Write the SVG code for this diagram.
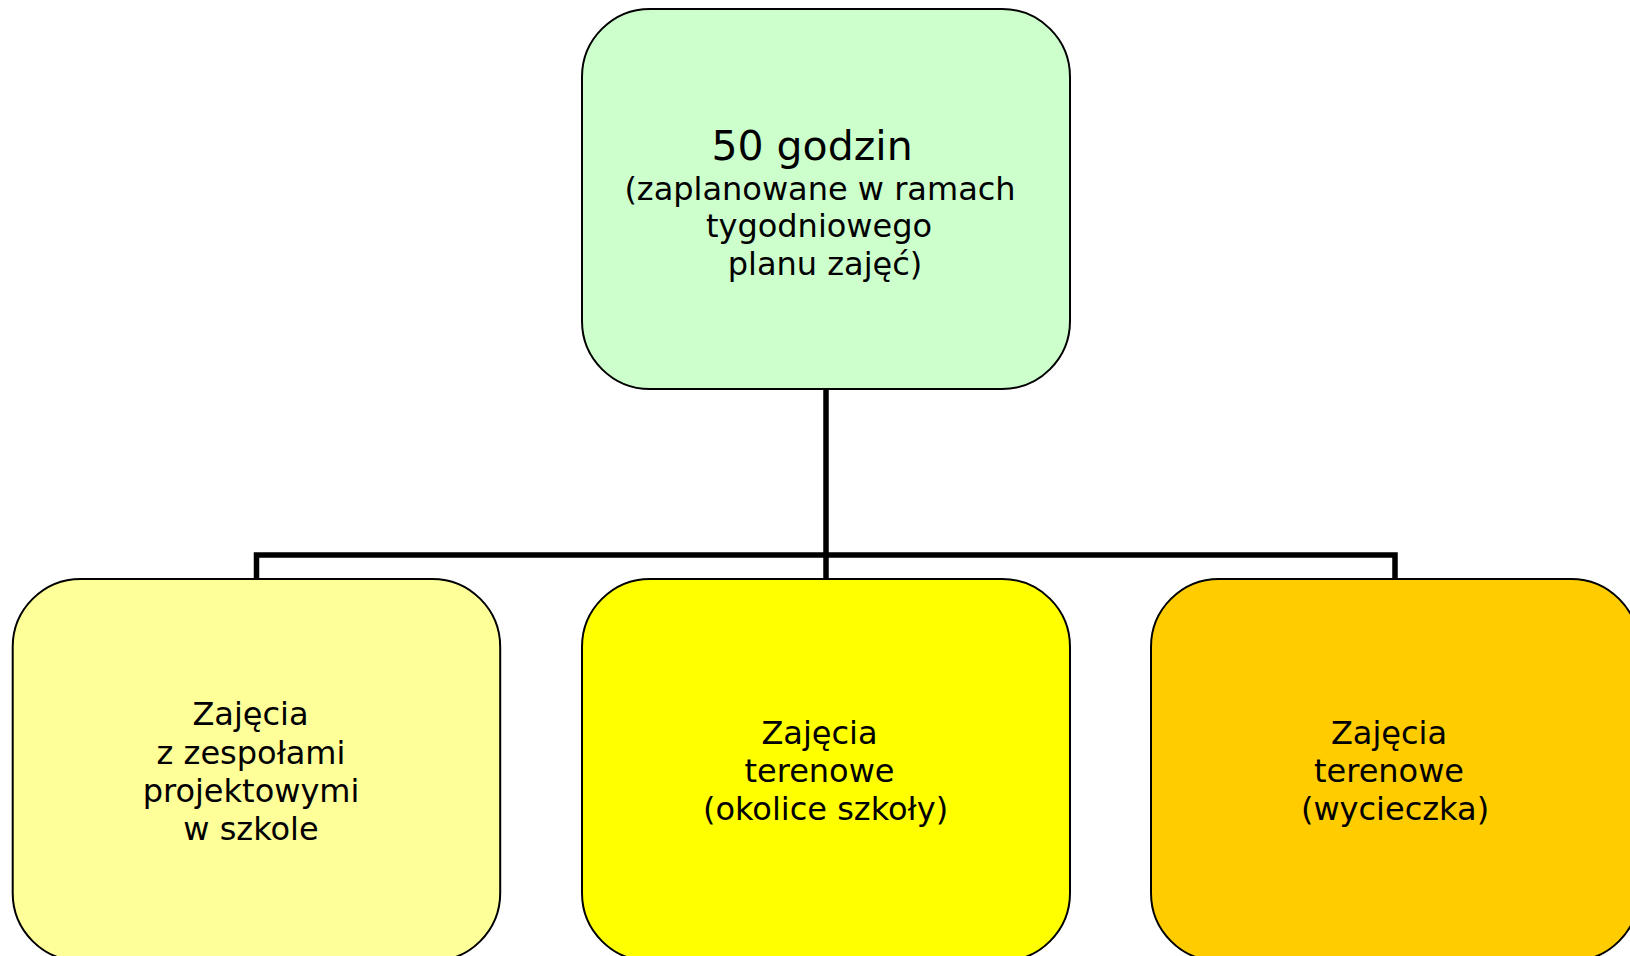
<svg xmlns="http://www.w3.org/2000/svg" width="1630" height="956" viewBox="0 0 1630 956">
<style>
.box{stroke:#000;stroke-width:2}
.t{font-family:"DejaVu Sans","Verdana",sans-serif;font-size:32px;fill:#000;text-anchor:middle}
.big{font-size:41px}
.conn{fill:none;stroke:#000;stroke-width:5.5}
</style>
<rect width="1630" height="956" fill="#fff"/>
<g id="connectors">
<path class="conn" d="M826 389 V555"/>
<path class="conn" d="M256.5 579 V555 H1395 V579"/>
<path class="conn" d="M826 555 V579"/>
</g>
<g id="root">
<rect class="box" x="582" y="9" width="488" height="380" rx="68" ry="68" fill="#CCFFCC"/>
<text class="t big" x="812" y="160">50 godzin</text>
<text class="t" x="820" y="200">(zaplanowane w ramach</text>
<text class="t" x="819" y="237">tygodniowego</text>
<text class="t" x="825" y="275">planu zajęć)</text>
</g>
<g id="node-left">
<rect class="box" x="12.7" y="579" width="487.5" height="382" rx="68" ry="68" fill="#FFFF99"/>
<text class="t" x="250.5" y="725">Zajęcia</text>
<text class="t" x="251" y="764">z zespołami</text>
<text class="t" x="251" y="802">projektowymi</text>
<text class="t" x="251" y="840">w szkole</text>
</g>
<g id="node-middle">
<rect class="box" x="582" y="579" width="488" height="382" rx="68" ry="68" fill="#FFFF00"/>
<text class="t" x="819.5" y="744">Zajęcia</text>
<text class="t" x="819.5" y="782">terenowe</text>
<text class="t" x="825.5" y="820">(okolice szkoły)</text>
</g>
<g id="node-right">
<rect class="box" x="1151" y="579" width="488" height="382" rx="68" ry="68" fill="#FFCC00"/>
<text class="t" x="1389" y="744">Zajęcia</text>
<text class="t" x="1389" y="782">terenowe</text>
<text class="t" x="1395" y="820">(wycieczka)</text>
</g>
</svg>
